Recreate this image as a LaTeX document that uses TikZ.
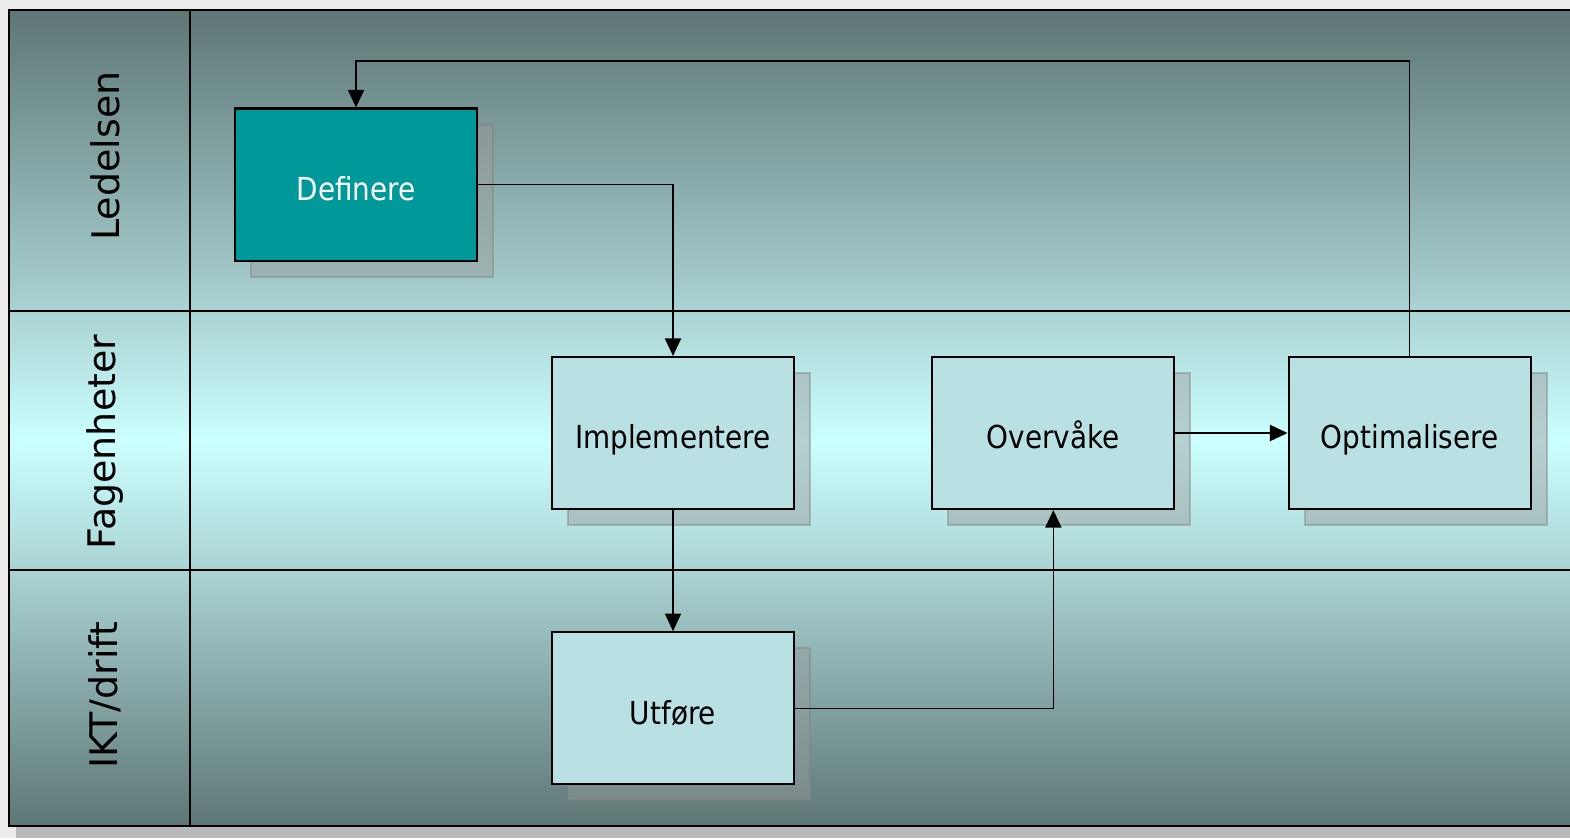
\documentclass[tikz,border=0pt]{standalone}
\usepackage{fontspec}
\setmainfont{DejaVu Sans}
\newfontfamily\boxfont[FakeStretch=0.88]{DejaVu Sans}
\usetikzlibrary{arrows.meta,shadows,positioning}

\definecolor{pageGray}{RGB}{236,236,234}
\definecolor{edgeShadow}{RGB}{185,185,185}
\definecolor{laneDark}{RGB}{94,118,118}
\definecolor{laneLight}{RGB}{170,211,211}
\definecolor{laneGlow}{RGB}{204,255,255}
\definecolor{boxFill}{RGB}{185,224,226}
\definecolor{defFill}{RGB}{0,153,153}

\tikzset{
  proc/.style={draw=black, line width=0.6pt, fill=boxFill,
    minimum width=2.42cm, minimum height=1.52cm, inner sep=0pt,
    text height=1.1em, text depth=0.2em,
    font=\boxfont\fontsize{9}{11}\selectfont,
    drop shadow={shadow xshift=0.16cm, shadow yshift=-0.16cm,
      fill=gray!80, draw=gray, opacity=0.45}},
  lanelabel/.style={rotate=90, font=\fontsize{10.8}{13}\selectfont},
  conn/.style={line width=0.45pt, -{Triangle[length=5pt, width=4.6pt]}}
}

\begin{document}
\begin{tikzpicture}[x=0.01cm, y=-0.01cm]
        \useasboundingbox (0,0) rectangle (1570,838);
        \clip (0,0) rectangle (1570,838);
        \fill[pageGray] (0,0) rectangle (1570,838);
        \fill[edgeShadow] (16,826) rectangle (1580,838);

        % Baner
        \shade[top color=laneDark, bottom color=laneLight] (9,10) rectangle (1580,311);
        \shade[top color=laneLight, bottom color=laneLight, middle color=laneGlow] (9,311) rectangle (1580,570);
        \shade[top color=laneLight, bottom color=laneDark] (9,570) rectangle (1580,826);
        \draw[line width=0.7pt] (9,10) rectangle (1580,826);
        \draw[line width=0.6pt] (9,311) -- (1580,311);
        \draw[line width=0.6pt] (9,570) -- (1580,570);
        \draw[line width=0.6pt] (190,10) -- (190,826);

        \node[lanelabel] (ledelsen) at (105,156) {Ledelsen};
        \node[lanelabel] (fagenheter) at (105,442) {Fagenheter};
        \node[lanelabel] (ikt) at (105,695) {IKT/drift};

        % Aktiviteter
        \node[proc, fill=defFill, text=white] (def) at (356,184.5) {Definere};
        \node[proc] (impl) at (673,433) {Implementere};
        \node[proc, right=1.36cm of impl] (ovr) {Overvåke};
        \node[proc, right=1.12cm of ovr] (opt) {Optimalisere};
        \node[proc, below=1.21cm of impl] (utf) {Utføre};

        % Flyt
        \coordinate (loopTop) at (0,61);
        \draw[conn] (opt.north) -- (opt.north |- loopTop) -| (def.north);
        \draw[conn] (def.east) -| (impl.north);
        \draw[conn, line width=0.3pt] (impl.south) -- (utf.north);
        \draw[conn] (utf.east) -| (ovr.south);
        \draw[conn] (ovr.east) -- (opt.west);
\end{tikzpicture}
\end{document}
